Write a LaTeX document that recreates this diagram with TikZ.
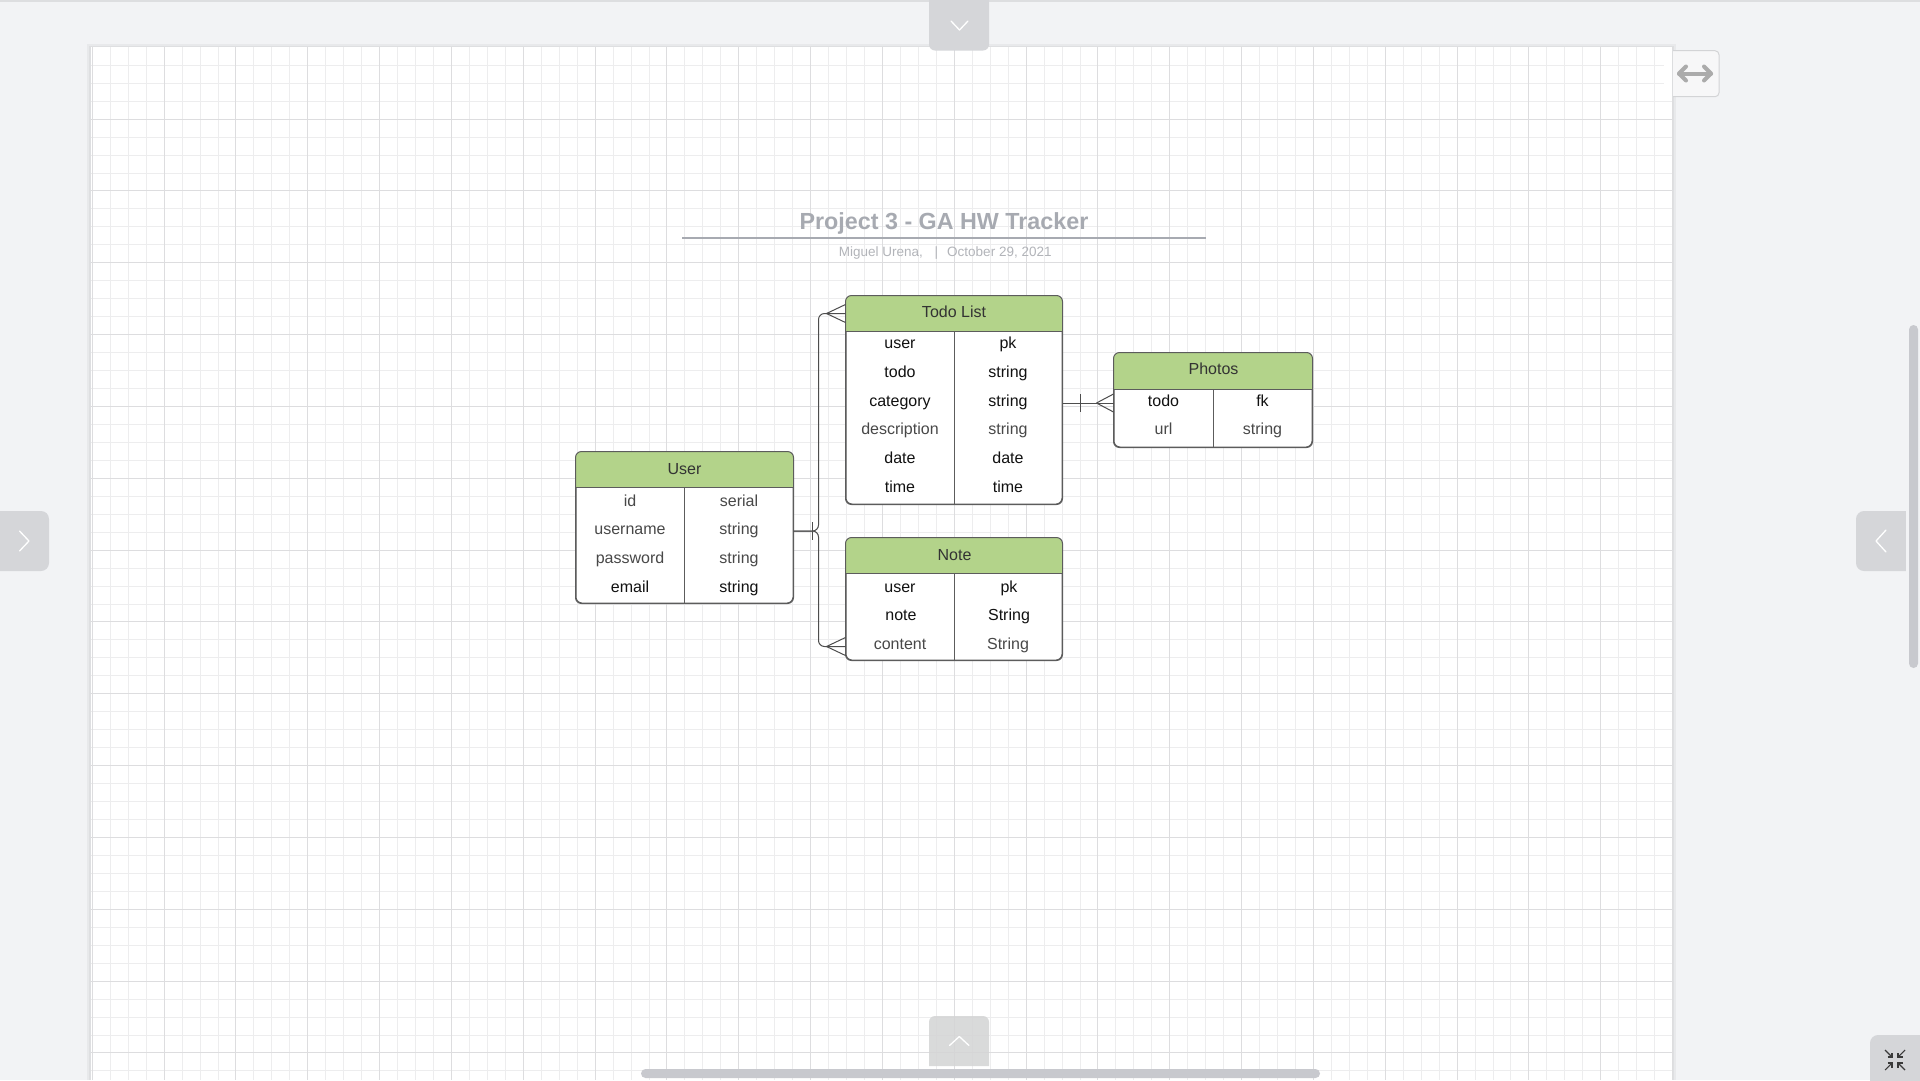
\documentclass[tikz,border=0pt]{standalone}
\usepackage{fontspec}
\setmainfont{Liberation Sans}
\usetikzlibrary{calc}
\definecolor{appbg}{RGB}{242,243,245}
\definecolor{topline}{RGB}{221,222,224}
\definecolor{shadowA}{RGB}{232,233,235}
\definecolor{shadowB}{RGB}{222,223,225}
\definecolor{gminorc}{RGB}{237,237,238}
\definecolor{gmajorc}{RGB}{221,221,223}
\definecolor{hdrgreen}{RGB}{179,211,138}
\definecolor{tblline}{RGB}{92,92,92}
\definecolor{connc}{RGB}{77,77,77}
\definecolor{cdark}{RGB}{17,17,17}
\definecolor{cgray}{RGB}{72,72,72}
\definecolor{hdrtext}{RGB}{51,51,51}
\definecolor{titlegray}{RGB}{167,170,177}
\definecolor{subgray}{RGB}{178,180,185}
\definecolor{uibtn}{RGB}{213,214,217}
\definecolor{uitab}{RGB}{212,213,213}
\definecolor{uibar}{RGB}{200,201,206}
\definecolor{expborder}{RGB}{211,212,214}
\definecolor{expfill}{RGB}{247,247,248}
\definecolor{expedge}{RGB}{220,221,223}
\definecolor{exparrow}{RGB}{171,171,171}
\definecolor{cmpicon}{RGB}{58,58,58}
\tikzset{
  gminor/.style={draw=gminorc, line width=1pt},
  gmajor/.style={draw=gmajorc, line width=1pt},
  tframe/.style={draw=tblline, line width=1pt, rounded corners=6pt, fill=white, inner sep=0pt},
  tline/.style={draw=tblline, line width=1pt},
  cell/.style={font=\fontsize{16}{19}\selectfont, anchor=base, inner sep=0pt, text=cdark},
  cellg/.style={cell, text=cgray},
  hdr/.style={font=\fontsize{16}{19}\selectfont, anchor=base, inner sep=0pt, text=hdrtext},
  conn/.style={draw=connc, line width=1pt},
  chev/.style={draw=white, line width=1.3pt, line cap=round, line join=round},
}
\begin{document}
\begin{tikzpicture}[x=1pt,y=-1pt]
\useasboundingbox (0,0) rectangle (1920,1080);
% app background
\fill[appbg] (0,0) rectangle (1920,1080);
\draw[draw=topline, line width=1.5pt] (0,0.75) -- (1920,0.75);
% canvas with shadow
\fill[shadowA] (86.5,43.5) rectangle (1675.5,1080);
\fill[shadowB] (88.5,45.5) rectangle (1673.5,1080);
\fill[white] (90.5,47.3) rectangle (1672,1080);
% grid
\foreach \i in {0,...,88} \draw[gminor] ({92.3+17.958*\i},47.3) -- ({92.3+17.958*\i},1080);
\foreach \j in {1,...,57} \draw[gminor] (90.5,{47.3+17.958*\j}) -- (1672,{47.3+17.958*\j});
\foreach \i in {0,4,...,88} \draw[gmajor] ({92.3+17.958*\i},47.3) -- ({92.3+17.958*\i},1080);
\foreach \j in {4,8,...,56} \draw[gmajor] (90.5,{47.3+17.958*\j}) -- (1672,{47.3+17.958*\j});

% title block
\node[font=\fontsize{23.3}{28}\selectfont\bfseries, text=titlegray, anchor=base, inner sep=0pt] (title) at (944,229.3) {Project 3 - GA HW Tracker};
\draw[draw=titlegray, line width=1.6pt] (682,238) -- (1206,238);
\node[font=\fontsize{13.5}{16}\selectfont, text=subgray, anchor=base west, inner sep=0pt] (sub) at (838.6,256) {Miguel Urena,\hspace{11.7pt}|\hspace{9.2pt}October 29, 2021};

% ===== tables =====
% User
\node[tframe, minimum width=217pt, minimum height=151pt] (user) at (684.5,527.5) {};
\begin{scope}
  \clip[rounded corners=6pt] (user.north west) rectangle (user.south east);
  \fill[hdrgreen] (user.north west) rectangle ($(user.north east)+(0,36)$);
\end{scope}
\draw[tline, rounded corners=6pt] (user.north west) rectangle (user.south east);
\draw[tline] ($(user.north west)+(0,36)$) -- ($(user.north east)+(0,36)$);
\draw[tline] ($(user.north)+(-0.5,36)$) -- ($(user.south)+(-0.5,0)$);
\node[hdr] (user-h) at (684.5,474) {User};
\node[cellg] (user-1a) at (630,506.5) {id};
\node[cellg] (user-1b) at (739,506.5) {serial};
\node[cellg] (user-2a) at (630,534) {username};
\node[cellg] (user-2b) at (739,534) {string};
\node[cellg] (user-3a) at (630,563) {password};
\node[cellg] (user-3b) at (739,563) {string};
\node[cell] (user-4a) at (630,592) {email};
\node[cell] (user-4b) at (739,592) {string};

% Todo List
\node[tframe, minimum width=216pt, minimum height=208pt] (todo) at (954,400) {};
\begin{scope}
  \clip[rounded corners=6pt] (todo.north west) rectangle (todo.south east);
  \fill[hdrgreen] (todo.north west) rectangle ($(todo.north east)+(0,36)$);
\end{scope}
\draw[tline, rounded corners=6pt] (todo.north west) rectangle (todo.south east);
\draw[tline] ($(todo.north west)+(0,36)$) -- ($(todo.north east)+(0,36)$);
\draw[tline] ($(todo.north)+(0,36)$) -- (todo.south);
\node[hdr] (todo-h) at (954,317) {Todo List};
\node[cell] (todo-1a) at (900,348.5) {user};
\node[cell] (todo-1b) at (1008,348.5) {pk};
\node[cell] (todo-2a) at (900,377.3) {todo};
\node[cell] (todo-2b) at (1008,377.3) {string};
\node[cell] (todo-3a) at (900,406.1) {category};
\node[cell] (todo-3b) at (1008,406.1) {string};
\node[cellg] (todo-4a) at (900,434.9) {description};
\node[cellg] (todo-4b) at (1008,434.9) {string};
\node[cell] (todo-5a) at (900,463.7) {date};
\node[cell] (todo-5b) at (1008,463.7) {date};
\node[cell] (todo-6a) at (900,492.5) {time};
\node[cell] (todo-6b) at (1008,492.5) {time};

% Note
\node[tframe, minimum width=216pt, minimum height=122pt] (note) at (954,599) {};
\begin{scope}
  \clip[rounded corners=6pt] (note.north west) rectangle (note.south east);
  \fill[hdrgreen] (note.north west) rectangle ($(note.north east)+(0,36)$);
\end{scope}
\draw[tline, rounded corners=6pt] (note.north west) rectangle (note.south east);
\draw[tline] ($(note.north west)+(0,36)$) -- ($(note.north east)+(0,36)$);
\draw[tline] ($(note.north)+(0,36)$) -- (note.south);
\node[hdr] (note-h) at (954.5,560.5) {Note};
\node[cell] (note-1a) at (900,592) {user};
\node[cell] (note-1b) at (1009,592) {pk};
\node[cell] (note-2a) at (901,620.5) {note};
\node[cell] (note-2b) at (1009,620.5) {String};
\node[cellg] (note-3a) at (900,649) {content};
\node[cellg] (note-3b) at (1008,649) {String};

% Photos
\node[tframe, minimum width=198pt, minimum height=94pt] (photos) at (1213,400) {};
\begin{scope}
  \clip[rounded corners=6pt] (photos.north west) rectangle (photos.south east);
  \fill[hdrgreen] (photos.north west) rectangle ($(photos.north east)+(0,37)$);
\end{scope}
\draw[tline, rounded corners=6pt] (photos.north west) rectangle (photos.south east);
\draw[tline] ($(photos.north west)+(0,37)$) -- ($(photos.north east)+(0,37)$);
\draw[tline] ($(photos.north)+(0,37)$) -- (photos.south);
\node[hdr] (photos-h) at (1213.5,374.5) {Photos};
\node[cell] (photos-1a) at (1163.5,406) {todo};
\node[cell] (photos-1b) at (1262.5,406) {fk};
\node[cellg] (photos-2a) at (1163.5,434.5) {url};
\node[cellg] (photos-2b) at (1262.5,434.5) {string};

% ===== connectors =====
% User -> Todo List
\draw[conn, rounded corners=6pt] ($(user.east)+(0,3.5)$) -| ($(todo.north west)+(-27,18)$) -- ($(todo.north west)+(0,18)$);
\draw[conn] ($(todo.north west)+(-19,18)$) -- ($(todo.north west)+(0,9)$);
\draw[conn] ($(todo.north west)+(-19,18)$) -- ($(todo.north west)+(0,27)$);
% User -> Note
\draw[conn, rounded corners=6pt] ($(user.east)+(0,3.5)$) -| ($(note.south west)+(-27,-14)$) -- ($(note.south west)+(0,-14)$);
\draw[conn] ($(note.south west)+(-19,-14)$) -- ($(note.south west)+(0,-23)$);
\draw[conn] ($(note.south west)+(-19,-14)$) -- ($(note.south west)+(0,-5)$);
% one-mark at User
\draw[conn] ($(user.east)+(19,-5.5)$) -- ($(user.east)+(19,12.5)$);
% Todo List -> Photos
\draw[conn] ($(todo.east)+(0,3)$) -- ($(photos.west)+(0,3)$);
\draw[conn] ($(todo.east)+(18,-6)$) -- ($(todo.east)+(18,12)$);
\draw[conn] ($(photos.west)+(-17,3)$) -- ($(photos.west)+(0,-6)$);
\draw[conn] ($(photos.west)+(-17,3)$) -- ($(photos.west)+(0,12)$);

% ===== viewer controls =====
% top tab
\fill[uibtn, rounded corners=6pt] (929,-10) rectangle (989,50.5);
\draw[chev] (951,21) -- (959.5,30) -- (968,21);
% bottom tab (rounded top corners only)
\fill[uitab, fill opacity=0.88] (929,1066) -- (929,1022) arc[start angle=180, end angle=90, radius=6pt] -- (983,1016) arc[start angle=90, end angle=0, radius=6pt] -- (989,1066) -- cycle;
\draw[chev] (949.5,1045.5) -- (959.3,1036.5) -- (969,1045.5);
% horizontal scrollbar
\fill[uibar, rounded corners=4.5pt] (641,1069) rectangle (1320,1078);
% left button
\fill[uibtn, rounded corners=8pt] (-10,511) rectangle (49,571);
\draw[chev] (19.5,531) -- (29,541) -- (19.5,551);
% right button
\fill[uibtn, rounded corners=8pt] (1856,511) rectangle (1916,571);
\fill[appbg] (1906,505) rectangle (1920,575);
\draw[chev] (1886,530) -- (1876,541) -- (1886,552);
% vertical scrollbar
\fill[uibar, rounded corners=4.5pt] (1909,325) rectangle (1918,668);
% expand button
\draw[draw=expborder, fill=expfill, line width=1pt, rounded corners=4pt] (1665,50.7) rectangle (1719,96.7);
\fill[white] (1664,47.3) rectangle (1672,100);
\draw[draw=expedge, line width=1.2pt] (1672.3,50) -- (1672.3,97.5);
\begin{scope}[draw=exparrow, line width=4pt, line cap=round, line join=round]
  \draw (1679,73.5) -- (1711,73.5);
  \draw (1686,66.5) -- (1679,73.5) -- (1686,80.5);
  \draw (1704,66.5) -- (1711,73.5) -- (1704,80.5);
\end{scope}
% compress button
\fill[uibtn, rounded corners=8pt] (1870,1035) rectangle (1930,1090);
\begin{scope}[draw=cmpicon, line width=1.1pt]
  \draw (1885,1050) -- (1892,1057);
  \draw (1887.5,1057) -- (1892,1057) -- (1892,1052.5);
  \draw (1905,1050) -- (1898,1057);
  \draw (1902.5,1057) -- (1898,1057) -- (1898,1052.5);
  \draw (1885,1070) -- (1892,1063);
  \draw (1887.5,1063) -- (1892,1063) -- (1892,1067.5);
  \draw (1905,1070) -- (1898,1063);
  \draw (1902.5,1063) -- (1898,1063) -- (1898,1067.5);
\end{scope}
\end{tikzpicture}
\end{document}
